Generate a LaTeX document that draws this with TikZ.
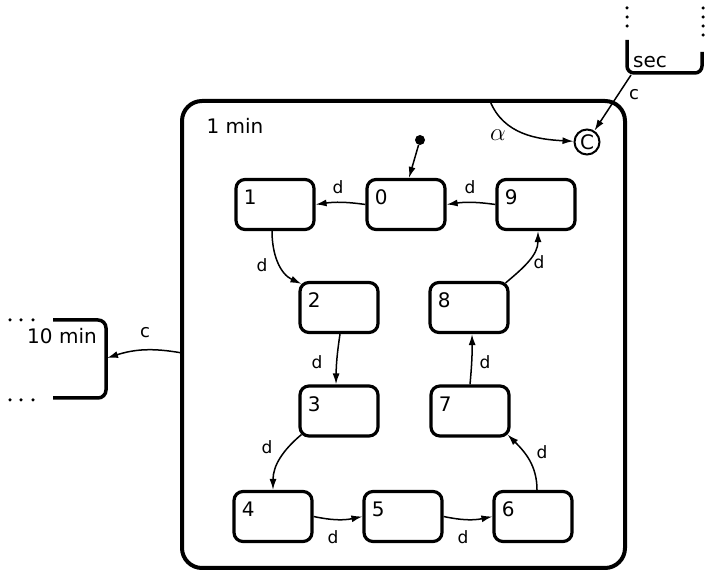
\documentclass[tikz,border=0pt]{standalone}
\usepackage{fontspec}
\setmainfont{DejaVu Sans}
\usetikzlibrary{arrows.meta}
\begin{document}
\begin{tikzpicture}[x=1pt,y=1pt,
  font=\fontsize{20}{24}\selectfont,
  stbox/.style={draw, line width=3.2pt, rounded corners=9pt, minimum width=78pt,
    minimum height=50pt, inner sep=0pt,
    label={[font=\fontsize{20}{24}\selectfont, anchor=west, xshift=6pt, yshift=7pt]west:#1}},
  ed/.style={line width=1.5pt, -{Latex[length=11pt,width=7pt]}},
  lb/.style={font=\fontsize{17}{20}\selectfont, inner sep=0pt},
  cl/.style={font=\fontsize{18}{20}\selectfont, inner sep=0pt},
  part/.style={line width=3.5pt, rounded corners=8pt},
  dotf/.style={circle, fill, inner sep=0pt, minimum size=3.5pt}]
\useasboundingbox (0,0) rectangle (706,572);

% outer state
\node[draw, line width=4pt, rounded corners=20pt, minimum width=443pt,
  minimum height=467pt, inner sep=0pt] (outer) at (403.5,237.5) {};
\node (onemin) at (235,446) {1 min};

% states
\node[stbox=0] (s0) at (406,367.5) {};
\node[stbox=1] (s1) at (275,367.5) {};
\node[stbox=9] (s9) at (536,367.5) {};
\node[stbox=2] (s2) at (339,264.5) {};
\node[stbox=8] (s8) at (469,264.5) {};
\node[stbox=3] (s3) at (339,161) {};
\node[stbox=7] (s7) at (470,161) {};
\node[stbox=4] (s4) at (273,55.5) {};
\node[stbox=5] (s5) at (403,55.5) {};
\node[stbox=6] (s6) at (533,55.5) {};

% initial
\node[circle, fill, inner sep=0pt, minimum size=10pt] (init) at (420,432) {};
\draw[ed] (init) -- ([xshift=3pt]s0.north);

% transitions d
\draw[ed] (s0.west) to[bend right=8] (s1.east);
\draw[ed] (s9.west) to[bend right=8] (s0.east);
\draw[ed] ([xshift=-3pt]s1.south) to[out=-90, in=155] ([xshift=3pt,yshift=-3pt]s2.north west);
\draw[ed] ([xshift=1pt]s2.south) to[bend right=4] ([xshift=-3pt]s3.north);
\draw[ed] ([xshift=3pt,yshift=3pt]s3.south west) to[out=220, in=90] (s4.north);
\draw[ed] (s4.east) to[bend right=12] (s5.west);
\draw[ed] (s5.east) to[bend right=12] (s6.west);
\draw[ed] ([xshift=4pt]s6.north) to[out=90, in=-45] ([xshift=-3pt,yshift=3pt]s7.south east);
\draw[ed] (s7.north) to[bend right=3] ([xshift=3pt]s8.south);
\draw[ed] ([xshift=-4pt,yshift=-2pt]s8.north east) to[out=40, in=-90] ([xshift=2pt]s9.south);

\node[lb] (d01) at (338,385) {d};
\node[lb] (d90) at (470,385) {d};
\node[lb] (d12) at (262,307) {d};
\node[lb] (d23) at (317,210) {d};
\node[lb] (d34) at (267,125) {d};
\node[lb] (d45) at (333,35) {d};
\node[lb] (d56) at (463,35) {d};
\node[lb] (d67) at (542,120) {d};
\node[lb] (d78) at (485,210) {d};
\node[lb] (d89) at (539,310) {d};

% connector C and alpha
\node[circle, draw, line width=2pt, minimum size=25pt, inner sep=0pt] (C) at (587,430) {C};
\coordinate (astart) at (490,471);
\draw[ed] (astart) to[out=-68, in=177] (C);
\node[inner sep=0pt, font=\fontsize{25}{28}\selectfont] (alpha) at (498,437) {$\alpha$};

% sec state (partial)
\draw[part, rounded corners=7pt] (627,532) -- (627,499) -- (702,499) -- (702,520);
\node[dotf] (sd1) at (627,564) {};
\node[dotf] (sd2) at (627,555) {};
\node[dotf] (sd3) at (627,546) {};
\node[dotf] (sd4) at (703,564) {};
\node[dotf] (sd5) at (703,555) {};
\node[dotf] (sd6) at (703,546) {};
\node[dotf] (sd7) at (703,537) {};
\node (sec) at (650,510) {sec};
\coordinate (secc) at (631,497);
\draw[ed] (secc) -- (C);
\node[cl] (csec) at (634,477) {c};

% 10 min state (partial)
\draw[part] (53,252) -- (106,252) -- (106,174) -- (53,174);
\node[dotf] (td1) at (10,252) {};
\node[dotf] (td2) at (21,252) {};
\node[dotf] (td3) at (33,252) {};
\node[dotf] (td4) at (10,172) {};
\node[dotf] (td5) at (21,172) {};
\node[dotf] (td6) at (33,172) {};
\node (tenmin) at (62,236) {10 min};
\coordinate (tenc) at (107,214);
\coordinate (cst) at (182,219);
\draw[ed] (cst) to[bend right=14] (tenc);
\node[cl] (cten) at (145,239) {c};
\end{tikzpicture}
\end{document}
